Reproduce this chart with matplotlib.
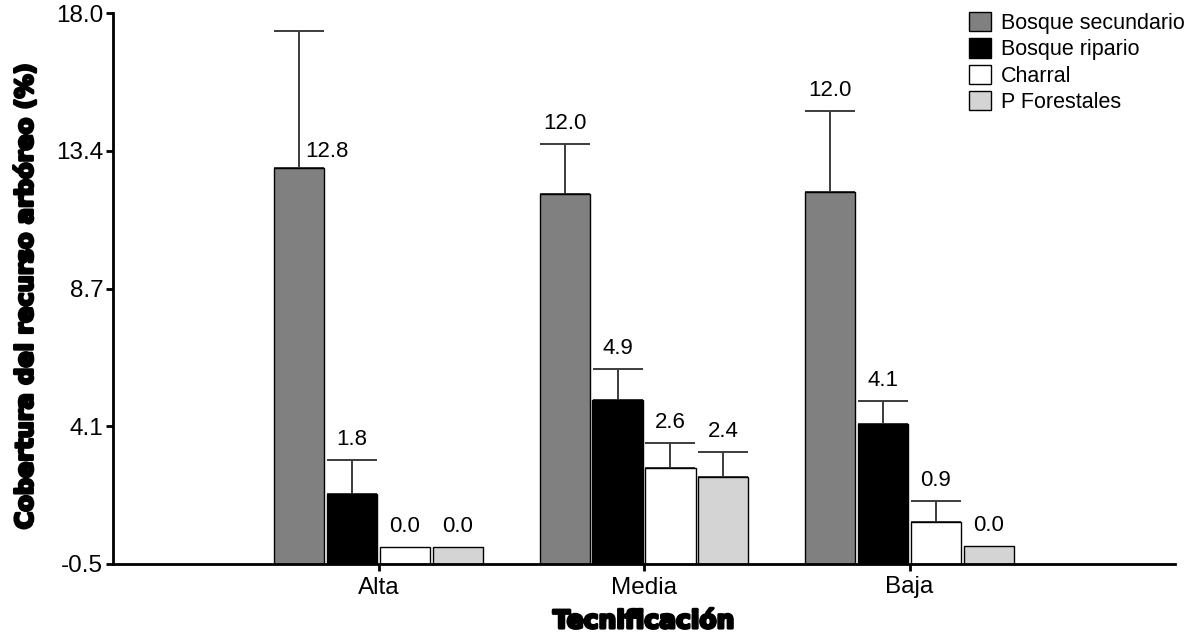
import numpy as np
import matplotlib
matplotlib.use("Agg")
import matplotlib.pyplot as plt
import matplotlib.patheffects as pe

# ============ Datos ============
niveles = ["Alta", "Media", "Baja"]
coberturas = ["Bosque secundario", "Bosque ripario", "Charral", "P Forestales"]

medias = {
    "Bosque secundario": [12.80, 11.92, 11.99],
    "Bosque ripario": [1.85, 5.01, 4.20],
    "Charral": [0.07, 2.72, 0.91],
    "P Forestales": [0.07, 2.42, 0.10],
}
error_sup = {
    "Bosque secundario": [4.61, 1.69, 2.72],
    "Bosque ripario": [1.14, 1.04, 0.77],
    "Charral": [0.0, 0.84, 0.71],
    "P Forestales": [0.0, 0.84, 0.0],
}
etiquetas = {
    "Bosque secundario": ["12.8", "12.0", "12.0"],
    "Bosque ripario": ["1.8", "4.9", "4.1"],
    "Charral": ["0.0", "2.6", "0.9"],
    "P Forestales": ["0.0", "2.4", "0.0"],
}
colores = {
    "Bosque secundario": "#808080",
    "Bosque ripario": "#000000",
    "Charral": "#ffffff",
    "P Forestales": "#d4d4d4",
}
yticklabels = ["-0.5", "4.1", "8.7", "13.4", "18.0"]

Y_MIN, Y_MAX = -0.5, 18.0
FONT = ["Liberation Sans", "DejaVu Sans"]
heavy = [pe.withStroke(linewidth=2.0, foreground="black")]

plt.rcParams["font.family"] = FONT

fig = plt.figure(figsize=(12.01, 6.36), dpi=100)
ax = fig.add_axes([113 / 1201, 72 / 636, 1062 / 1201, 551 / 636])

x = np.arange(1, len(niveles) + 1)
ancho = 0.19
paso = 0.199

for i, cob in enumerate(coberturas):
    pos = x + (i - 1.5) * paso
    alto = np.array(medias[cob]) - Y_MIN
    ax.bar(pos, alto, width=ancho, bottom=Y_MIN, color=colores[cob],
           edgecolor="black", linewidth=1.0, label=cob, zorder=2)
    err = np.array(error_sup[cob])
    con_err = err > 0
    ax.errorbar(pos[con_err], np.array(medias[cob])[con_err],
                yerr=[np.zeros(con_err.sum()), err[con_err]],
                fmt="none", ecolor="#3c3c3c", elinewidth=1.4,
                capsize=ancho * 265.5 / 2 * 0.72, capthick=1.4, zorder=1)
    for j, p in enumerate(pos):
        tope = medias[cob][j] + err[j]
        if tope + 1.2 > Y_MAX:
            # etiqueta junto a la barra cuando no cabe arriba
            ax.annotate(etiquetas[cob][j], (p, medias[cob][j]), xytext=(4, 4),
                        textcoords="offset points", ha="left", va="bottom",
                        fontsize=16)
        else:
            ax.annotate(etiquetas[cob][j], (p, tope), xytext=(0, 7),
                        textcoords="offset points", ha="center", va="bottom",
                        fontsize=16)

ax.set_xlim(0, 4)
ax.set_ylim(Y_MIN, Y_MAX)
ax.set_yticks(np.linspace(Y_MIN, Y_MAX, len(yticklabels)))
ax.set_yticklabels(yticklabels)
ax.set_xticks(x)
ax.set_xticklabels(niveles)
ax.tick_params(axis="both", labelsize=17.5, width=2, length=5, direction="out")
ax.tick_params(axis="x", pad=4)
ax.tick_params(axis="y", pad=2)

for s in ("top", "right"):
    ax.spines[s].set_visible(False)
for s in ("left", "bottom"):
    ax.spines[s].set_linewidth(2)

ax.set_xlabel("Tecnificación", fontsize=18, fontweight="bold",
              family="DejaVu Sans", path_effects=heavy)
ax.xaxis.set_label_coords(0.5, -0.082)
ax.set_ylabel("Cobertura del recurso arbóreo (%)", fontsize=17.3,
              fontweight="bold", family="DejaVu Sans", path_effects=heavy)
ax.yaxis.set_label_coords(-0.071, 0.485)

ax.legend(loc="upper left", bbox_to_anchor=(969 / 1201, 1 - 12 / 636),
          bbox_transform=fig.transFigure, frameon=False, fontsize=15.5,
          handlelength=1.0, handleheight=1.0, handletextpad=0.5,
          labelspacing=0.2, borderpad=0, borderaxespad=0)

fig.savefig("out.png", dpi=100)
